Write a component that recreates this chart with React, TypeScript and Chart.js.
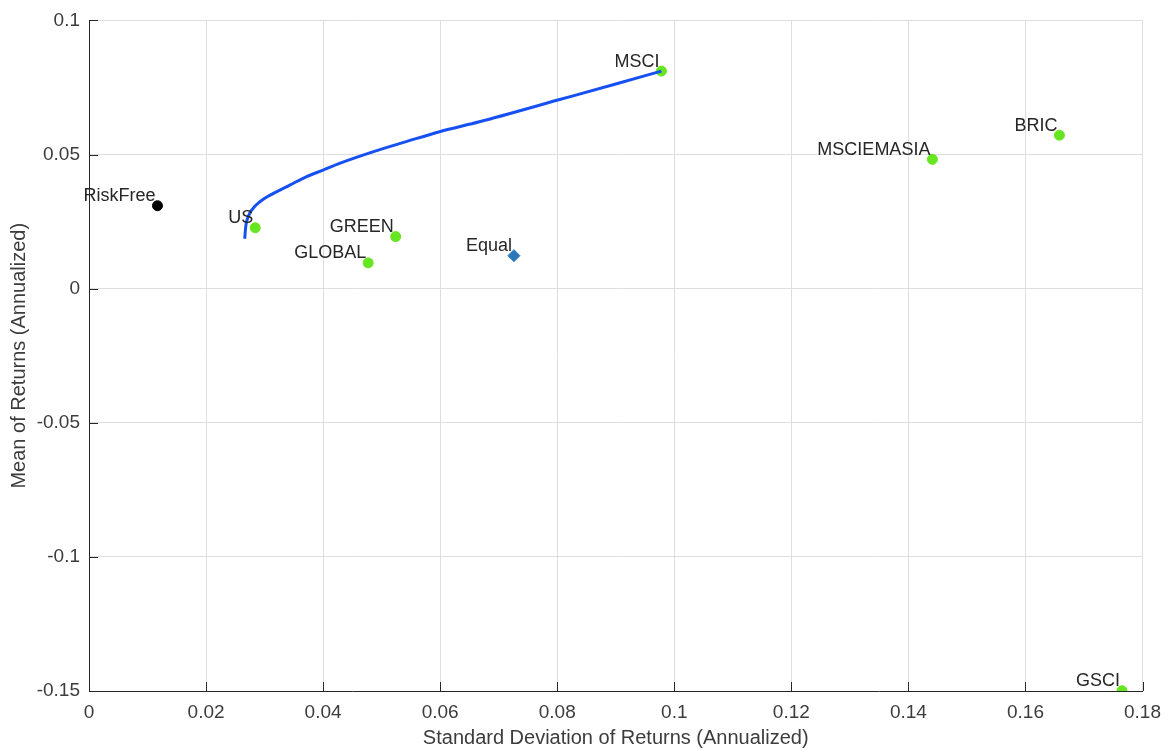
import React, { useEffect, useRef } from 'react';
import { Chart, registerables } from 'chart.js';

Chart.register(...registerables);

// ---- data ----
const assetNames = ['US', 'GREEN', 'GLOBAL', 'MSCI', 'MSCIEMASIA', 'BRIC', 'GSCI'];
const assetRisk = [0.0284, 0.0524, 0.0477, 0.0978, 0.1441, 0.1658, 0.1765];
const assetReturn = [0.0227, 0.0194, 0.0096, 0.0811, 0.0482, 0.0572, -0.1499];

const riskFreeName = 'RiskFree';
const riskFreeRisk = [0.0117];
const riskFreeReturn = [0.0309];

const equalName = 'Equal';
const equalRisk = [0.0726];
const equalReturn = [0.0123];

const frontierRisk = [0.0266, 0.0268, 0.0272, 0.0278, 0.0292, 0.0315, 0.0343, 0.0371, 0.04, 0.0428, 0.0485, 0.0542, 0.0599, 0.0667, 0.0801, 0.09, 0.0978];
const frontierReturn = [0.0186, 0.0235, 0.0268, 0.0293, 0.0324, 0.0355, 0.0386, 0.0417, 0.0442, 0.0467, 0.051, 0.0548, 0.0585, 0.0622, 0.0703, 0.0763, 0.0811];

const xTickMin = 0;
const xTickMax = 0.18;
const xTickStep = 0.02;
const yTickMin = -0.15;
const yTickMax = 0.1;
const yTickStep = 0.05;

const xTitle = 'Standard Deviation of Returns (Annualized)';
const yTitle = 'Mean of Returns (Annualized)';

const FONT = '"Liberation Sans", Arial, Helvetica, sans-serif';
const AXIS_COLOR = '#262626';
const TEXT_COLOR = '#3c3c3c';
const GRID_COLOR = '#dedede';

const fmt = (v: number) => String(Math.round(Number(v) * 1000) / 1000);

export default function App() {
  const ref = useRef<HTMLCanvasElement>(null);

  useEffect(() => {
    if (!ref.current) return;

    const labelItems = [
      ...assetNames.map((n, i) => ({ name: n, x: assetRisk[i], y: assetReturn[i] })),
      { name: riskFreeName, x: riskFreeRisk[0], y: riskFreeReturn[0] },
      { name: equalName, x: equalRisk[0], y: equalReturn[0] },
    ];

    const labelPlugin = {
      id: 'pointLabels',
      afterDatasetsDraw(chart: any) {
        const { ctx, scales } = chart;
        ctx.save();
        ctx.font = `18px ${FONT}`;
        ctx.fillStyle = '#262626';
        ctx.textAlign = 'right';
        ctx.textBaseline = 'alphabetic';
        labelItems.forEach((it) => {
          const px = scales.x.getPixelForValue(it.x);
          const py = scales.y.getPixelForValue(it.y);
          ctx.fillText(it.name, px - 2, py - 4.5);
        });
        ctx.restore();
      },
    };

    const innerTicks = {
      id: 'innerTicks',
      beforeDatasetsDraw(chart: any) {
        const { ctx, scales, chartArea } = chart;
        ctx.save();
        ctx.strokeStyle = AXIS_COLOR;
        ctx.lineWidth = 1;
        ctx.beginPath();
        scales.x.ticks.forEach((t: any) => {
          const px = Math.round(scales.x.getPixelForValue(t.value)) + 0.5;
          ctx.moveTo(px, chartArea.bottom);
          ctx.lineTo(px, chartArea.bottom - 9);
        });
        scales.y.ticks.forEach((t: any) => {
          const py = Math.round(scales.y.getPixelForValue(t.value)) + 0.5;
          ctx.moveTo(chartArea.left, py);
          ctx.lineTo(chartArea.left + 9, py);
        });
        ctx.stroke();
        ctx.restore();
      },
    };

    const chart = new Chart(ref.current, {
      type: 'scatter',
      data: {
        datasets: [
          {
            label: 'Frontier',
            data: frontierRisk.map((x, i) => ({ x, y: frontierReturn[i] })),
            showLine: true,
            borderColor: '#1650f2',
            borderWidth: 3,
            pointRadius: 0,
            cubicInterpolationMode: 'monotone',
            order: 0,
          } as any,
          {
            label: 'Assets',
            data: assetRisk.map((x, i) => ({ x, y: assetReturn[i] })),
            backgroundColor: '#66e620',
            borderColor: '#66e620',
            borderWidth: 1,
            pointRadius: 5,
            order: 1,
          },
          {
            label: riskFreeName,
            data: riskFreeRisk.map((x, i) => ({ x, y: riskFreeReturn[i] })),
            backgroundColor: '#000000',
            borderColor: '#000000',
            borderWidth: 1,
            pointRadius: 5,
            order: 1,
          },
          {
            label: equalName,
            data: equalRisk.map((x, i) => ({ x, y: equalReturn[i] })),
            backgroundColor: '#2a78ba',
            borderColor: '#2a78ba',
            borderWidth: 1,
            pointStyle: 'rectRot',
            pointRadius: 6,
            order: 1,
          },
        ],
      },
      options: {
        animation: false,
        responsive: false,
        layout: { padding: { top: 20, right: 27, left: 0, bottom: 0 } },
        plugins: {
          legend: { display: false },
          tooltip: { enabled: false },
        },
        scales: {
          x: {
            type: 'linear',
            min: xTickMin,
            max: xTickMax,
            afterFit: (s: any) => {
              s.height = 58;
            },
            ticks: {
              stepSize: xTickStep,
              font: { size: 19, family: FONT },
              color: TEXT_COLOR,
              padding: 10,
              maxRotation: 0,
              callback: (v: any) => fmt(v),
            },
            grid: { color: GRID_COLOR, drawTicks: false, lineWidth: 1 },
            border: { color: AXIS_COLOR, width: 1 },
            title: {
              display: true,
              text: xTitle,
              font: { size: 20, family: FONT, lineHeight: 1.1 },
              color: TEXT_COLOR,
              padding: { top: 0, bottom: 0 },
            },
          },
          y: {
            type: 'linear',
            min: yTickMin,
            max: yTickMax,
            afterFit: (s: any) => {
              s.width = 89;
            },
            ticks: {
              stepSize: yTickStep,
              font: { size: 19, family: FONT },
              color: TEXT_COLOR,
              padding: 9,
              callback: (v: any) => fmt(v),
            },
            grid: { color: GRID_COLOR, drawTicks: false, lineWidth: 1 },
            border: { color: AXIS_COLOR, width: 1 },
            title: {
              display: true,
              text: yTitle,
              font: { size: 20, family: FONT },
              color: TEXT_COLOR,
              padding: { top: 7, bottom: 0 },
            },
          },
        },
      },
      plugins: [innerTicks, labelPlugin],
    });

    return () => chart.destroy();
  }, []);

  return (
    <div style={{ position: 'absolute', left: 0, top: 0, width: 1171, height: 749, background: '#fff' }}>
      <canvas ref={ref} width={1171} height={749} style={{ display: 'block' }} />
    </div>
  );
}
